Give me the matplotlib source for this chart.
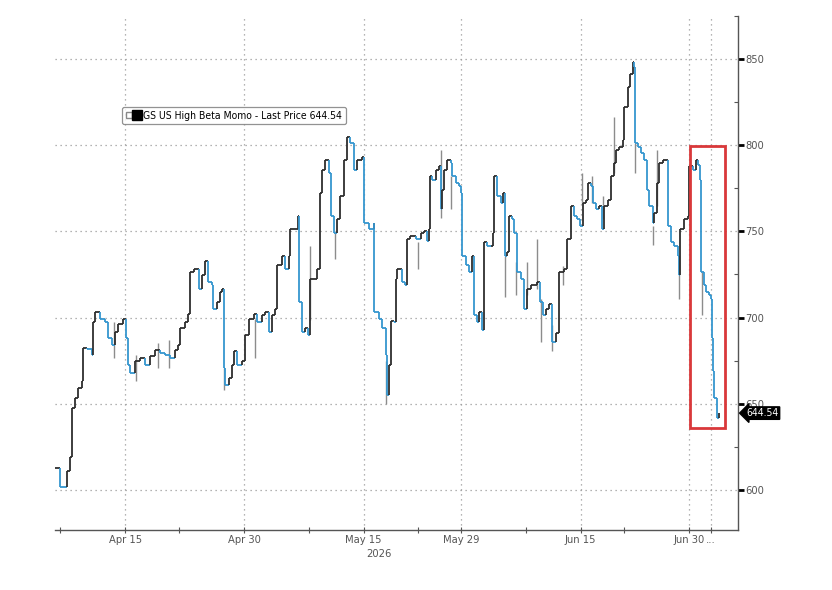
import numpy as np
import pandas as pd
import matplotlib
matplotlib.use('Agg')
import matplotlib.pyplot as plt
from matplotlib.collections import LineCollection
from matplotlib.lines import Line2D
from matplotlib.patches import Rectangle
from matplotlib.legend_handler import HandlerTuple
import matplotlib.transforms as mtransforms

plt.rcParams['font.family'] = ['DejaVu Sans']
plt.rcParams['font.stretch'] = 'condensed'

# position in trading days since Apr 6 2026 (fraction = intraday)
session = [
    0.54, 1.00, 1.62, 1.92, 2.08, 2.38, 2.69, 3.00, 3.15, 3.46, 3.92, 4.07, 4.23, 4.69,
    5.15, 5.46, 5.77, 6.08, 6.38, 6.84, 7.09, 7.30, 7.46, 7.92, 8.38, 8.85, 9.31, 9.77,
    10.23, 10.69, 11.16, 11.62, 11.92, 12.08, 12.54, 12.84, 13.00, 13.31, 13.77, 14.08,
    14.39, 14.69, 15.00, 15.15, 15.47, 15.77, 15.93, 16.08, 16.23, 16.54, 16.85, 17.00,
    17.31, 17.77, 18.08, 18.38, 18.85, 19.16, 19.62, 19.93, 20.23, 20.54, 20.85, 21.01,
    21.47, 21.77, 22.08, 22.23, 22.70, 22.91, 23.07, 23.31, 23.62, 23.83, 24.02, 24.39,
    24.70, 25.00, 25.16, 25.47, 25.77, 25.99, 26.23, 26.55, 26.85, 27.16, 27.47, 27.77,
    28.08, 28.39, 28.85, 29.00, 29.07, 29.46, 29.93, 29.99, 30.39, 30.70, 31.01, 31.10,
    31.31, 31.47, 31.77, 31.93, 32.09, 32.55, 32.85, 33.01, 33.31, 33.78, 34.24, 34.54,
    34.79, 35.00, 35.10, 35.32, 35.62, 35.93, 36.08, 36.24, 36.39, 36.71, 37.01, 37.16,
    37.47, 37.77, 37.93, 38.09, 38.39, 38.70, 39.01, 39.16, 39.47, 39.62, 39.93, 40.08,
    40.39, 40.70, 40.95, 41.01, 41.32, 41.62, 41.87, 41.99, 42.24, 42.39, 42.70, 42.85,
    43.10, 43.47, 43.78, 44.09, 44.39, 44.70, 45.01, 45.25, 45.57, 45.78, 46.08, 46.40,
    46.70, 47.01, 47.47, 47.78, 48.09, 48.39, 48.70, 48.95, 49.17, 49.47, 49.63, 49.93,
    50.09, 50.40, 50.71, 50.92, 51.17, 51.48, 51.78, 52.03, 52.24, 52.55, 52.86, 53.01,
    53.32, 53.56, 53.79, 53.94, 54.00, 54.25, 54.56, 54.87, 55.11, 55.32, 55.63, 55.78,
    56.03, 56.24, 56.56, 56.86, 57.02, 57.32, 57.63, 57.94, 58.09, 58.18, 58.50, 58.87,
    59.01, 59.33, 59.63, 59.78, 60.00, 60.09, 60.34, 60.56, 60.86, 61.02, 61.08, 61.17,
    61.32, 61.53, 61.76,
]
price = [
    612.4, 601.6, 611.0, 619.0, 647.6, 653.4, 659.0, 663.0, 682.2, 682.0, 678.5, 697.5, 703.0, 699.4,
    697.5, 688.0, 684.0, 691.8, 696.5, 699.4, 688.0, 672.6, 667.8, 674.5, 676.4, 672.6, 677.4, 681.2,
    679.3, 678.4, 676.4, 681.2, 684.0, 693.7, 697.5, 702.3, 726.3, 728.2, 716.7, 724.4,
    733.0, 720.5, 718.6, 705.2, 709.0, 714.8, 716.7, 670.7, 661.0, 665.0, 672.6, 680.3,
    672.6, 674.5, 689.9, 699.4, 702.3, 697.5, 701.4, 703.3, 691.8, 701.4, 705.2, 730.2,
    735.9, 728.2, 735.9, 751.2, 751.2, 758.9, 709.0, 691.8, 693.7, 689.9, 722.4, 722.4,
    728.2, 772.3, 785.7, 791.5, 783.8, 758.9, 749.3, 757.0, 770.4, 791.5, 804.9, 801.1,
    785.7, 791.5, 793.4, 781.9, 755.0, 751.2, 755.0, 703.3, 699.4, 693.7, 678.4, 655.3,
    672.6, 698.0, 697.5, 722.4, 728.2, 720.5, 718.6, 745.5, 747.4, 745.5, 749.3, 750.3,
    744.5, 751.2, 781.9, 780.0, 785.7, 787.7, 762.7, 774.2, 785.7, 791.5, 789.6, 781.9,
    778.0, 776.2, 772.3, 735.9, 730.2, 726.3, 735.9, 701.4, 697.5, 703.3, 692.7, 743.6,
    741.7, 741.7, 749.3, 781.9, 770.4, 766.6, 772.3, 735.9, 737.8, 758.9, 757.0, 749.3,
    726.3, 722.4, 705.2, 716.7, 718.6, 718.6, 720.5, 709.0, 701.4, 705.0, 708.0, 686.0,
    691.0, 726.3, 728.2, 745.5, 764.7, 758.9, 757.0, 753.2, 766.6, 768.5, 778.0, 776.2,
    766.6, 762.7, 764.7, 751.2, 764.7, 768.5, 781.9, 789.6, 797.2, 799.2, 803.0, 822.2,
    833.7, 841.4, 848.1, 845.2, 801.1, 799.2, 795.3, 791.5, 774.2, 764.7, 755.0, 760.8,
    778.0, 789.6, 791.5, 791.5, 753.2, 743.6, 741.7, 735.9, 724.4, 751.2, 757.0, 758.9,
    787.7, 785.7, 791.5, 788.6, 780.0, 726.3, 718.6, 714.8, 712.9, 711.0, 688.0, 668.8,
    653.4, 641.9, 644.54,
]

# intraday high/low spikes (gray wicks)
wick_session = [5.98, 8.01, 10.07, 11.06, 16.14, 19.00, 24.02, 26.39, 31.03, 33.99, 36.08, 37.01,
                41.99, 43.01, 44.02, 45.01, 45.32, 46.40, 47.41, 49.08, 50.02, 51.02, 52.03, 54.00,
                55.69, 56.03, 58.09, 60.18]
wick_high = [697.5, 678.4, 685.0, 687.0, 670.7, 699.4, 741.7, 749.3, 674.5, 743.6, 797.2, 781.9,
             735.9, 732.0, 732.0, 745.5, 711.0, 695.6, 730.0, 783.8, 781.9, 770.4, 816.4, 801.1,
             753.0, 797.2, 736.0, 726.3]
wick_low = [676.4, 663.0, 670.7, 671.0, 658.0, 676.4, 698.5, 733.9, 649.6, 728.2, 757.9, 762.7,
            711.9, 712.9, 712.9, 716.7, 686.0, 680.3, 718.6, 766.6, 766.6, 757.0, 783.8, 783.8,
            742.0, 764.7, 711.0, 701.4]

tick_dates = ['2026-04-15', '2026-04-30', '2026-05-15', '2026-05-29', '2026-06-15', '2026-06-30', '2026-07-02']
tick_labels = ['Apr 15', 'Apr 30', 'May 15', 'May 29', 'Jun 15', 'Jun 30', '...']
minor_dates = ['2026-04-07', '2026-04-22', '2026-05-08', '2026-05-22', '2026-06-08', '2026-06-22']
holidays = ['2026-05-25', '2026-06-19', '2026-07-03']
last_price = 644.54
series_name = 'GS US High Beta Momo - Last Price 644.54'

# trading calendar -> session index for ticks
days = pd.bdate_range('2026-04-06', '2026-07-10', freq='C', holidays=holidays)
major_pos = days.get_indexer(pd.to_datetime(tick_dates))
minor_pos = days.get_indexer(pd.to_datetime(minor_dates))

UP = '#2e2e2e'
DOWN = '#3596cf'
WICK = '#8c8c8c'

fig = plt.figure(figsize=(8.32, 5.9), dpi=100)
ax = fig.add_axes([0.0661, 0.1017, 0.8209, 0.8712])

# wicks behind the price line
ax.vlines(wick_session, wick_low, wick_high, colors=WICK, linewidth=1.0, zorder=2)

# step line, black when rising, blue when falling
x = np.array(session)
y = np.array(price)
segs, cols = [], []
prev = UP
for i in range(len(x) - 1):
    c = UP if y[i + 1] >= y[i] else DOWN
    segs.append([(x[i], y[i]), (x[i + 1], y[i])])
    cols.append(prev)
    segs.append([(x[i + 1], y[i]), (x[i + 1], y[i + 1])])
    cols.append(c)
    prev = c
ax.add_collection(LineCollection(segs, colors=cols, linewidths=1.3, zorder=3))

ax.set_xlim(0.54, 63.5)
ax.set_ylim(576.7, 872.4)

# axes styling
for s in ['top', 'left']:
    ax.spines[s].set_visible(False)
for s in ['bottom', 'right']:
    ax.spines[s].set_color('#555555')
    ax.spines[s].set_linewidth(1.0)

ax.yaxis.tick_right()
ax.set_yticks(np.arange(600, 851, 50))
ax.set_yticks(np.arange(625, 876, 50), minor=True)
ax.tick_params(axis='y', which='major', direction='out', length=4, width=2, color='black',
               labelsize=8, labelcolor='#555555', pad=1)
ax.tick_params(axis='y', which='minor', direction='in', length=3, width=0.8, color='#555555')

ax.set_xticks(major_pos)
ax.set_xticklabels(tick_labels)
ax.set_xticks(minor_pos, minor=True)
ax.tick_params(axis='x', which='major', direction='inout', length=5, width=0.8, color='#555555',
               labelsize=8, labelcolor='#555555', pad=1)
ax.tick_params(axis='x', which='minor', direction='inout', length=4, width=0.8, color='#555555')

ax.grid(True, which='major', color='#9a9a9a', linestyle=(0, (1, 3)), linewidth=0.9)
ax.set_axisbelow(True)

ax.text(days.get_loc(pd.Timestamp('2026-05-15')) + 1.4, -0.036, '2026',
        transform=mtransforms.blended_transform_factory(ax.transData, ax.transAxes),
        ha='center', va='top', fontsize=8, color='#555555')

# red highlight box
ax.add_patch(Rectangle((59.08, 636.0), 3.22, 163.4, fill=False, edgecolor='#d9383a', linewidth=2.0, zorder=5))

# last price tag
trans = mtransforms.blended_transform_factory(ax.transAxes, ax.transData)
ax.text(1.012, last_price, f'{last_price:.2f}', transform=trans, ha='left', va='center',
        fontsize=7.5, color='white',
        bbox=dict(boxstyle='larrow,pad=0.12', fc='black', ec='black'), clip_on=False)

# legend
h_icon = Line2D([], [], marker='s', markersize=4, markerfacecolor='white', markeredgecolor='#888888', ls='none')
h_sq = Line2D([], [], marker='s', markersize=7, color='black', ls='none')
leg = ax.legend([(h_icon, h_sq)], [series_name], handler_map={tuple: HandlerTuple(ndivide=None, pad=0.1)},
                loc='upper left', bbox_to_anchor=(0.098, 0.823), fontsize=7.5, frameon=True, fancybox=True,
                handlelength=1.4, handletextpad=0.3, borderpad=0.35, borderaxespad=0)
leg.get_frame().set_edgecolor('#777777')
leg.get_frame().set_linewidth(0.9)

fig.savefig('out.png', dpi=100)
